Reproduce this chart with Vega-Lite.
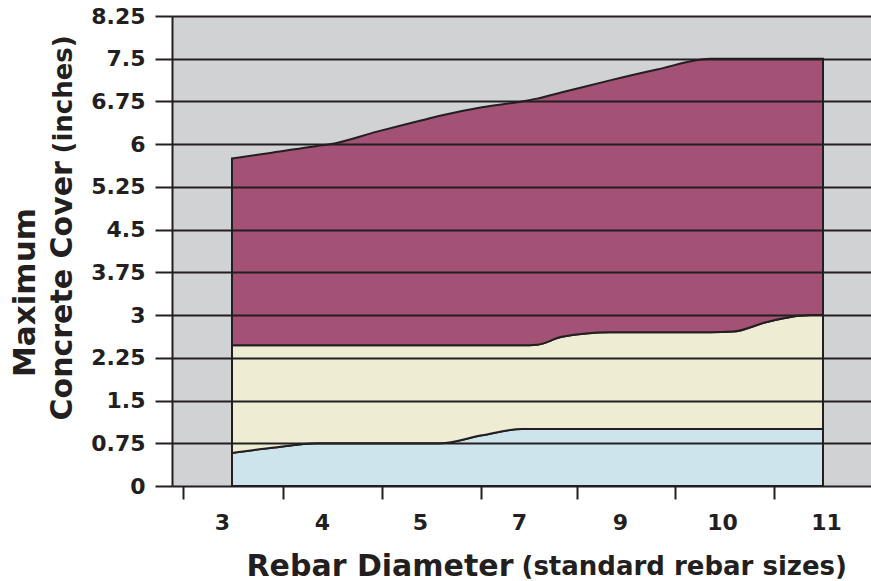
{
  "$schema": "https://vega.github.io/schema/vega-lite/v6.json",
  "width": 699,
  "height": 470,
  "autosize": {"type": "none"},
  "padding": {"left": 172, "top": 16, "right": 0, "bottom": 95},
  "background": "#ffffff",
  "config": {
    "view": {"fill": "#d1d2d4", "stroke": null},
    "font": "DejaVu Sans"
  },
  "data": {
    "values": [
      {"x": 0.10, "blue": 0.58, "cream": 2.47, "purple": 5.75},
      {"x": 0.50, "blue": 0.67, "cream": 2.47, "purple": 5.85},
      {"x": 0.95, "blue": 0.75, "cream": 2.47, "purple": 5.97},
      {"x": 1.08, "blue": 0.75, "cream": 2.47, "purple": 6.0},
      {"x": 1.55, "blue": 0.75, "cream": 2.47, "purple": 6.22},
      {"x": 2.00, "blue": 0.75, "cream": 2.47, "purple": 6.42},
      {"x": 2.18, "blue": 0.75, "cream": 2.47, "purple": 6.5},
      {"x": 2.60, "blue": 0.89, "cream": 2.47, "purple": 6.65},
      {"x": 3.00, "blue": 1.0, "cream": 2.47, "purple": 6.75},
      {"x": 3.15, "blue": 1.0, "cream": 2.48, "purple": 6.8},
      {"x": 3.40, "blue": 1.0, "cream": 2.62, "purple": 6.91},
      {"x": 3.88, "blue": 1.0, "cream": 2.70, "purple": 7.12},
      {"x": 4.35, "blue": 1.0, "cream": 2.70, "purple": 7.31},
      {"x": 4.88, "blue": 1.0, "cream": 2.70, "purple": 7.5},
      {"x": 5.11, "blue": 1.0, "cream": 2.71, "purple": 7.5},
      {"x": 5.45, "blue": 1.0, "cream": 2.88, "purple": 7.5},
      {"x": 5.88, "blue": 1.0, "cream": 3.0, "purple": 7.5},
      {"x": 6.01, "blue": 1.0, "cream": 3.0, "purple": 7.5}
    ]
  },
  "resolve": {
    "scale": {"x": "shared", "y": "shared"},
    "axis": {"x": "independent", "y": "independent"}
  },
  "layer": [
    {
      "mark": {"type": "area", "color": "#cde4ec", "stroke": "#231f20", "strokeWidth": 2, "interpolate": "monotone"},
      "encoding": {
        "x": {
          "field": "x", "type": "quantitative",
          "scale": {"domain": [-0.5, 6.49], "nice": false, "zero": false},
          "axis": {
            "orient": "bottom",
            "values": [-0.39, 0.61, 1.60, 2.59, 3.55, 4.53, 5.52],
            "labels": false, "grid": false, "domain": false,
            "ticks": true, "tickSize": 13, "tickWidth": 2, "tickColor": "#231f20",
            "title": "Rebar Diameter",
            "titleFont": "DejaVu Sans", "titleFontSize": 30, "titleFontWeight": "bold", "titleColor": "#231f20",
            "titleX": 74, "titleY": 89, "titleAlign": "left", "titleBaseline": "alphabetic", "titleAngle": 0
          }
        },
        "y": {
          "field": "blue", "type": "quantitative",
          "scale": {"domain": [0, 8.25], "nice": false, "zero": true},
          "axis": {
            "orient": "left",
            "values": [0, 0.75, 1.5, 2.25, 3, 3.75, 4.5, 5.25, 6, 6.75, 7.5, 8.25],
            "labelExpr": "datum.value + ''",
            "zindex": 1,
            "grid": true, "gridColor": "#231f20", "gridWidth": 2, "gridOpacity": 1,
            "domain": true, "domainColor": "#231f20", "domainWidth": 2,
            "ticks": true, "tickSize": 17, "tickWidth": 2, "tickColor": "#231f20",
            "labelFont": "DejaVu Sans", "labelFontSize": 22, "labelFontWeight": "bold", "labelColor": "#231f20",
            "labelPadding": 10,
            "title": "Maximum",
            "titleFont": "DejaVu Sans", "titleFontSize": 31, "titleFontWeight": "bold", "titleColor": "#231f20",
            "titleAngle": 270, "titleX": -138, "titleY": 276, "titleAlign": "center", "titleBaseline": "alphabetic"
          }
        },
        "y2": {"datum": 0}
      }
    },
    {
      "mark": {"type": "area", "color": "#eeedd4", "stroke": "#231f20", "strokeWidth": 2, "interpolate": "monotone"},
      "encoding": {
        "x": {
          "field": "x", "type": "quantitative",
          "axis": {
            "orient": "bottom",
            "values": [0, 1, 1.98, 2.97, 3.98, 5.0, 6.04],
            "labelExpr": "['3','4','5','7','9','10','11'][round(datum.value)]",
            "ticks": false, "tickSize": 0, "grid": false, "domain": false,
            "labelFont": "DejaVu Sans", "labelFontSize": 22, "labelFontWeight": "bold", "labelColor": "#231f20",
            "labelPadding": 26, "labelFlush": false, "labelOverlap": false,
            "title": "(standard rebar sizes)",
            "titleFont": "DejaVu Sans", "titleFontSize": 26, "titleFontWeight": "bold", "titleColor": "#231f20",
            "titleX": 349, "titleY": 88, "titleAlign": "left", "titleBaseline": "alphabetic", "titleAngle": 0
          }
        },
        "y": {
          "field": "cream", "type": "quantitative",
          "axis": {
            "orient": "left",
            "labels": false, "ticks": false, "grid": false, "domain": false,
            "title": "Concrete Cover",
            "titleFont": "DejaVu Sans", "titleFontSize": 30, "titleFontWeight": "bold", "titleColor": "#231f20",
            "titleAngle": 270, "titleX": -101, "titleY": 404, "titleAlign": "left", "titleBaseline": "alphabetic"
          }
        },
        "y2": {"field": "blue"}
      }
    },
    {
      "mark": {"type": "area", "color": "#a35175", "stroke": "#231f20", "strokeWidth": 2, "interpolate": "monotone"},
      "encoding": {
        "x": {"field": "x", "type": "quantitative", "axis": null},
        "y": {
          "field": "purple", "type": "quantitative",
          "axis": {
            "orient": "left",
            "labels": false, "ticks": false, "grid": false, "domain": false,
            "title": "(inches)",
            "titleFont": "DejaVu Sans", "titleFontSize": 26, "titleFontWeight": "bold", "titleColor": "#231f20",
            "titleAngle": 270, "titleX": -101, "titleY": 137, "titleAlign": "left", "titleBaseline": "alphabetic"
          }
        },
        "y2": {"field": "cream"}
      }
    }
  ]
}
